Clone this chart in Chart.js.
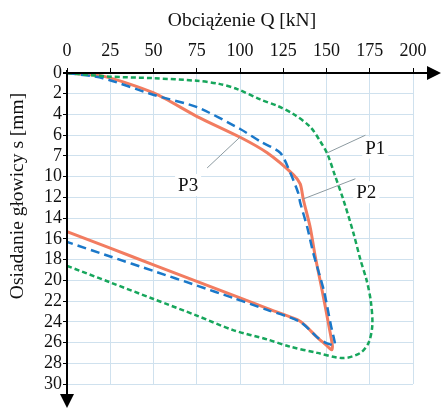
<!DOCTYPE html>
<html lang="pl">
<head>
<meta charset="UTF-8">
<title>Obciążenie - osiadanie</title>
<script src="https://cdn.jsdelivr.net/npm/chart.js"></script>
<style>
  html, body { margin: 0; padding: 0; background: #fff; }
</style>
</head>
<body>
<canvas id="myChart" width="442" height="410"></canvas>
<script>
// tick labels (the 8 mm tick is printed as "7" in the original)
const xTickLabels = ['0', '25', '50', '75', '100', '125', '150', '175', '200'];
const yTickValues = [0, 2, 4, 6, 8, 10, 12, 14, 16, 18, 20, 22, 24, 26, 28, 30];
const yTickLabels = ['0', '2', '4', '6', '7', '10', '12', '14', '16', '18', '20', '22', '24', '26', '28', '30'];

// [Q kN, s mm]
const curveP1 = [ // green dashed
  [0, 0], [25, 0.35], [50, 0.5], [75, 0.75], [88, 1.05], [98.4, 1.55], [111.7, 2.55],
  [122, 3.2], [130.8, 3.95], [140.6, 5.2], [146.4, 6.6], [150.5, 7.8], [154.5, 9.7],
  [159.7, 12.2], [165.5, 15.4], [169.6, 18], [173.2, 20], [175.6, 22], [176.5, 24.3],
  [174.4, 26.0], [169.6, 27.0], [159.7, 27.5], [144.7, 27.0], [129, 26.4], [115.7, 25.7],
  [96, 24.8], [75, 23.4], [50, 21.8], [25, 20.2], [0, 18.6]
];
const curveP2 = [ // blue dashed
  [0, 0], [20.8, 0.5], [49.8, 2.1], [75.2, 3.3], [100.1, 5.4], [111.7, 6.6], [123.3, 7.7],
  [129, 9.6], [133.7, 11.6], [134.8, 12.5], [138.9, 14.9], [142.4, 17.4], [148.5, 21],
  [152.5, 24.3], [154.8, 26.0], [154.6, 26.3], [152.5, 26.2], [149.3, 26.0], [144.7, 25.5],
  [134.8, 24.0], [115.7, 22.85], [96, 21.7], [75, 20.5], [50, 19.1], [25, 17.7],
  [0, 16.3]
];
const curveP3 = [ // orange solid
  [0, 0], [20.8, 0.3], [49.8, 1.9], [75.2, 4.2], [100.1, 6.2], [115.7, 7.7], [130.8, 9.8],
  [134.8, 10.7], [136.6, 12.2], [140.6, 14.9], [143.5, 17.7], [147.5, 21.0], [151.5, 24.5],
  [153.4, 26.3], [153.0, 26.7], [149.5, 26.2], [144, 25.4], [138, 24.4], [133.1, 23.8],
  [115.7, 22.7], [100, 21.7], [75, 20.1], [50, 18.5], [25, 16.9], [0, 15.3]
];

// callout labels: text, text position, leader line (in data units)
const callouts = [
  { text: 'P1', at: [178.2, 7.2], from: [172.5, 6.0], to: [150.5, 7.7] },
  { text: 'P2', at: [173.0, 11.5], from: [166.7, 10.2], to: [136.6, 12.15] },
  { text: 'P3', at: [70.0, 10.8], from: [81.0, 9.16], to: [100.1, 6.17] }
];

const FONT = '"Liberation Serif", "Times New Roman", serif';
const toPts = arr => arr.map(p => ({ x: p[0], y: p[1] }));

// arrows on the axes, axis titles and callouts
const decorPlugin = {
  id: 'decor',
  afterDatasetsDraw(chart) {
    const { ctx, chartArea: a, scales } = chart;
    const W = chart.width, H = chart.height;
    ctx.save();

    // axis lines with arrow heads
    ctx.strokeStyle = '#000';
    ctx.fillStyle = '#000';
    ctx.lineWidth = 2;
    ctx.beginPath();
    ctx.moveTo(a.left - 4, a.top);
    ctx.lineTo(W - 12, a.top);
    ctx.moveTo(a.left, a.top - 3);
    ctx.lineTo(a.left, H - 14);
    ctx.stroke();
    ctx.beginPath();
    ctx.moveTo(W - 1, a.top);
    ctx.lineTo(W - 15, a.top - 7);
    ctx.lineTo(W - 15, a.top + 7);
    ctx.closePath();
    ctx.fill();
    ctx.beginPath();
    ctx.moveTo(a.left, H - 2);
    ctx.lineTo(a.left - 7, H - 16);
    ctx.lineTo(a.left + 7, H - 16);
    ctx.closePath();
    ctx.fill();

    // titles
    ctx.font = '19.5px ' + FONT;
    ctx.textAlign = 'center';
    ctx.textBaseline = 'middle';
    ctx.fillStyle = '#111';
    ctx.fillText('Obciążenie Q [kN]', (a.left + a.right) / 2 + 2, 21);
    ctx.save();
    ctx.translate(18, 196);
    ctx.rotate(-Math.PI / 2);
    ctx.fillText('Osiadanie głowicy s [mm]', 0, 0);
    ctx.restore();

    // callouts
    const sx = scales.x, sy = scales.y;
    callouts.forEach(c => {
      const tx = sx.getPixelForValue(c.at[0]), ty = sy.getPixelForValue(c.at[1]);
      ctx.font = '19px ' + FONT;
      const w = ctx.measureText(c.text).width;
      ctx.fillStyle = '#fff';
      ctx.fillRect(tx - w / 2 - 3, ty - 11, w + 6, 22);
      ctx.strokeStyle = '#8c9aa0';
      ctx.lineWidth = 1;
      ctx.beginPath();
      ctx.moveTo(sx.getPixelForValue(c.from[0]), sy.getPixelForValue(c.from[1]));
      ctx.lineTo(sx.getPixelForValue(c.to[0]), sy.getPixelForValue(c.to[1]));
      ctx.stroke();
      ctx.fillStyle = '#111';
      ctx.fillText(c.text, tx, ty + 1);
    });
    ctx.restore();
  }
};

const ctx = document.getElementById('myChart').getContext('2d');
new Chart(ctx, {
  type: 'scatter',
  data: {
    datasets: [
      {
        label: 'P1',
        data: toPts(curveP1),
        showLine: true,
        borderColor: '#17a65c',
        borderWidth: 2.5,
        borderDash: [5, 3],
        pointRadius: 0,
        tension: 0.3
      },
      {
        label: 'P2',
        data: toPts(curveP2),
        showLine: true,
        borderColor: '#1a78c9',
        borderWidth: 2.5,
        borderDash: [9, 5],
        pointRadius: 0,
        tension: 0.25
      },
      {
        label: 'P3',
        data: toPts(curveP3),
        showLine: true,
        borderColor: '#f27c60',
        borderWidth: 3,
        pointRadius: 0,
        tension: 0.25
      }
    ]
  },
  options: {
    responsive: false,
    animation: false,
    layout: { padding: { left: 0, right: 29, top: 0, bottom: 26 } },
    plugins: {
      legend: { display: false },
      tooltip: { enabled: false }
    },
    scales: {
      x: {
        type: 'linear',
        position: 'top',
        min: 0,
        max: 200,
        afterFit: s => { s.height = 73; },
        afterBuildTicks: s => { s.ticks = xTickLabels.map(t => ({ value: Number(t) })); },
        ticks: {
          color: '#111',
          font: { family: FONT, size: 18 },
          padding: 6,
          maxRotation: 0,
          autoSkip: false,
          callback: v => xTickLabels[xTickLabels.indexOf(String(v))]
        },
        grid: { color: '#cfe1ee', tickColor: '#000', tickLength: 5 },
        border: { display: false }
      },
      y: {
        type: 'linear',
        reverse: true,
        min: 0,
        max: 30,
        afterFit: s => { s.width = 67; },
        afterBuildTicks: s => { s.ticks = yTickValues.map(v => ({ value: v })); },
        ticks: {
          color: '#111',
          font: { family: FONT, size: 18 },
          padding: 1,
          autoSkip: false,
          callback: v => yTickLabels[yTickValues.indexOf(v)]
        },
        grid: { color: '#cfe1ee', tickColor: '#000', tickLength: 4 },
        border: { display: false }
      }
    }
  },
  plugins: [decorPlugin]
});
</script>
</body>
</html>
